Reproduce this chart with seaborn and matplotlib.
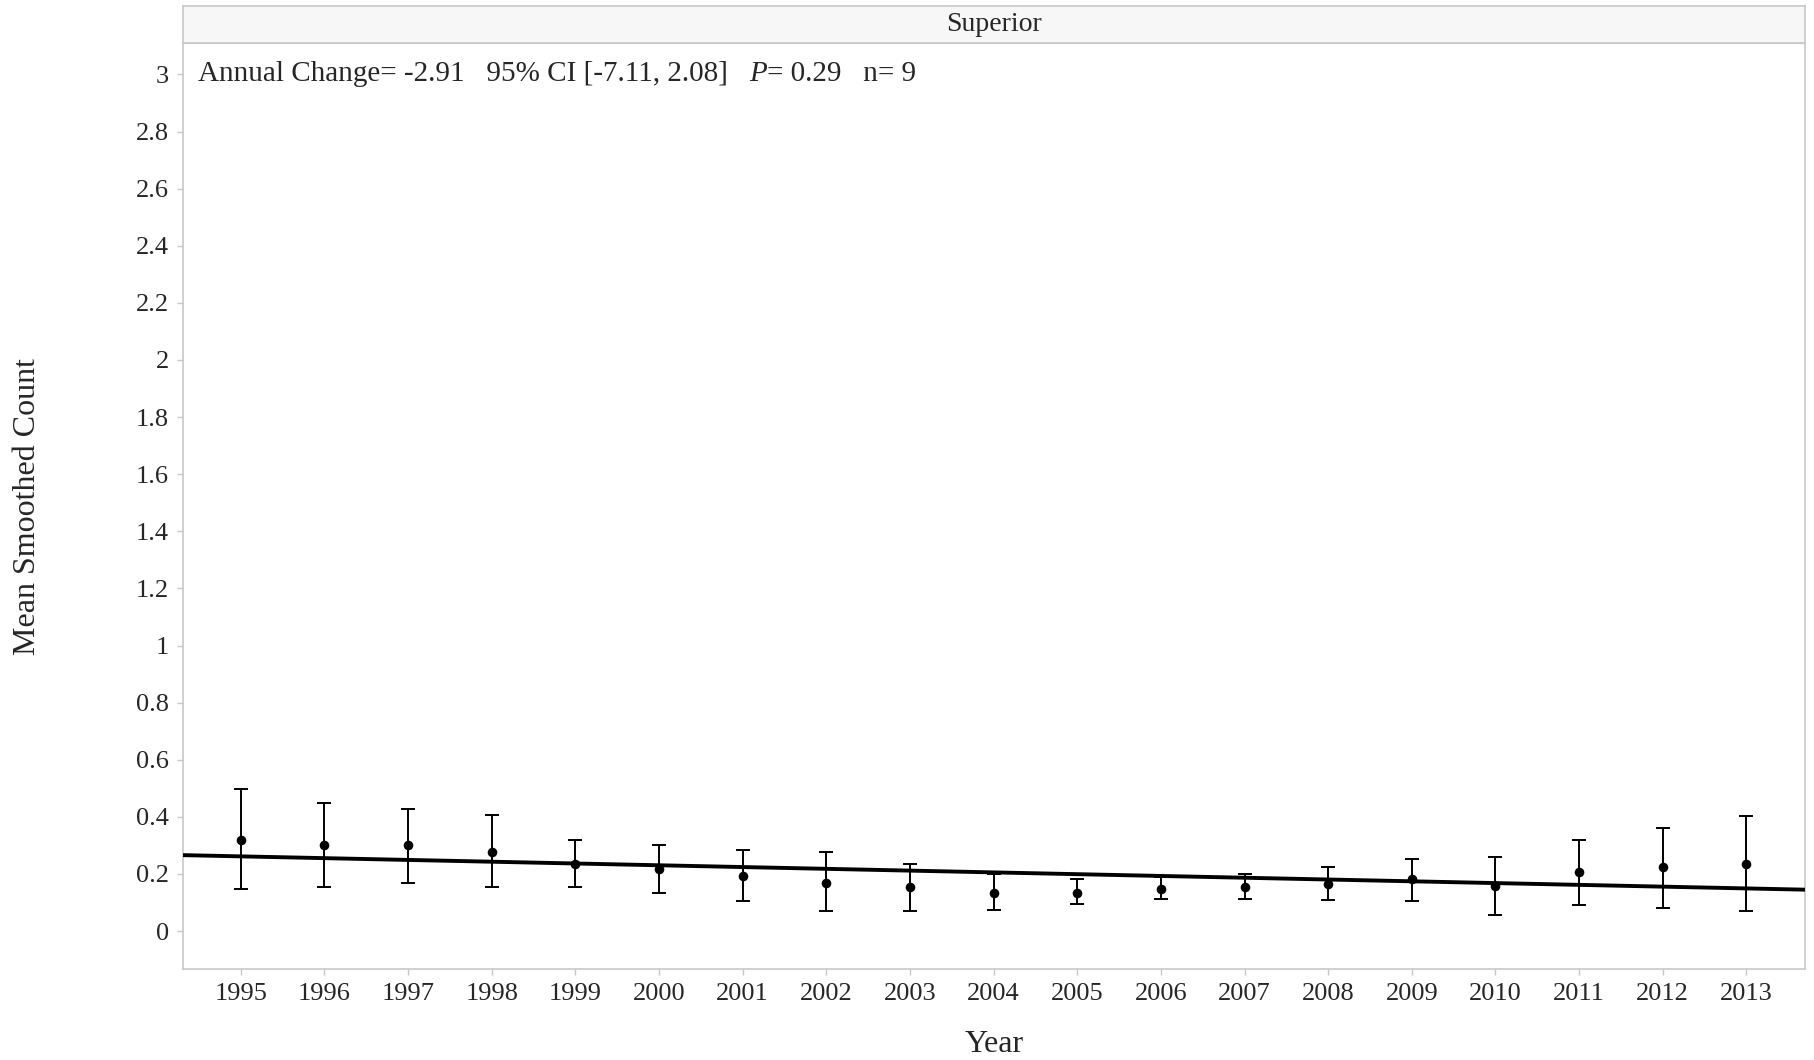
import matplotlib
matplotlib.use("Agg")
import matplotlib.pyplot as plt
import seaborn as sns
import pandas as pd
import numpy as np

years = [1995, 1996, 1997, 1998, 1999, 2000, 2001, 2002, 2003, 2004,
         2005, 2006, 2007, 2008, 2009, 2010, 2011, 2012, 2013]
means = [0.320, 0.302, 0.302, 0.277, 0.236, 0.218, 0.194, 0.170, 0.153, 0.135,
         0.135, 0.147, 0.153, 0.165, 0.182, 0.159, 0.206, 0.225, 0.236]
upper = [0.498, 0.450, 0.427, 0.408, 0.320, 0.301, 0.283, 0.277, 0.235, 0.200,
         0.182, 0.190, 0.200, 0.225, 0.254, 0.260, 0.320, 0.361, 0.402]
lower = [0.147, 0.154, 0.170, 0.154, 0.154, 0.135, 0.105, 0.069, 0.069, 0.075,
         0.094, 0.112, 0.112, 0.110, 0.105, 0.058, 0.093, 0.081, 0.069]
trend_x = [1994.3, 2013.7]
trend_y = [0.266, 0.145]
yticks = [0, 0.2, 0.4, 0.6, 0.8, 1, 1.2, 1.4, 1.6, 1.8, 2, 2.2, 2.4, 2.6, 2.8, 3]
panel_title = "Superior"
stats_parts = ["Annual Change= -2.91   95% CI [-7.11, 2.08]   ", "P", "= 0.29   n= 9"]

sns.set_style("white")
plt.rcParams['font.family'] = ['Liberation Serif', 'DejaVu Serif']

df = pd.DataFrame({"Year": years, "Mean": means, "lo": lower, "hi": upper})
tr = pd.DataFrame({"x": trend_x, "y": trend_y})

fig = plt.figure(figsize=(18.14, 10.60), dpi=100)
ax = fig.add_axes([0.1009, 0.0858, 0.8941, 0.8736])

ax.errorbar(df["Year"], df["Mean"],
            yerr=[df["Mean"] - df["lo"], df["hi"] - df["Mean"]],
            fmt='none', ecolor='black', elinewidth=1.4, capsize=5, capthick=1.4, zorder=2)
sns.scatterplot(data=df, x="Year", y="Mean", color='black', s=48, edgecolor='black',
                linewidth=0, ax=ax, zorder=3)
sns.lineplot(data=tr, x="x", y="y", color='black', linewidth=2.8, ax=ax, zorder=4)

ax.set_xlim(1994.31, 2013.7)
ax.set_ylim(-0.133, 3.11)
ax.set_xticks(years)
ax.set_xticklabels([str(y) for y in years])
ax.set_yticks(yticks)
ax.set_yticklabels([f"{v:g}" for v in yticks])
ax.tick_params(axis='both', labelsize=19, length=4, width=1, color='#c8c8c8',
               direction='out', left=True, bottom=True, pad=6)
for s in ['left', 'right', 'bottom']:
    ax.spines[s].set_color('#c8c8c8')
    ax.spines[s].set_linewidth(1.2)
ax.spines['top'].set_color('#c8c8c8')

ax.set_xlabel("Year", fontsize=23)
ax.set_ylabel("Mean Smoothed Count", fontsize=23)
ax.yaxis.set_label_coords(-0.087, 0.5)
ax.xaxis.set_label_coords(0.5, -0.066)

# strip header
strip = fig.add_axes([0.1009, 0.9594, 0.8941, 0.0349])
strip.set_facecolor('#f7f7f7')
strip.set_xticks([]); strip.set_yticks([])
for s in strip.spines.values():
    s.set_color('#c8c8c8'); s.set_linewidth(1.2)
strip.text(0.5, 0.5, panel_title, ha='center', va='center', fontsize=20, transform=strip.transAxes)

# stats annotation
t1 = ax.text(0.009, 3.0, stats_parts[0], fontsize=21, ha='left', va='center',
             transform=ax.get_yaxis_transform())
t2 = ax.annotate(stats_parts[1], xy=(1, 0), xycoords=t1, fontsize=21, fontstyle='italic',
                 ha='left', va='bottom')
t3 = ax.annotate(stats_parts[2], xy=(1, 0), xycoords=t2, fontsize=21, ha='left', va='bottom')

fig.savefig("out.png", dpi=100)
